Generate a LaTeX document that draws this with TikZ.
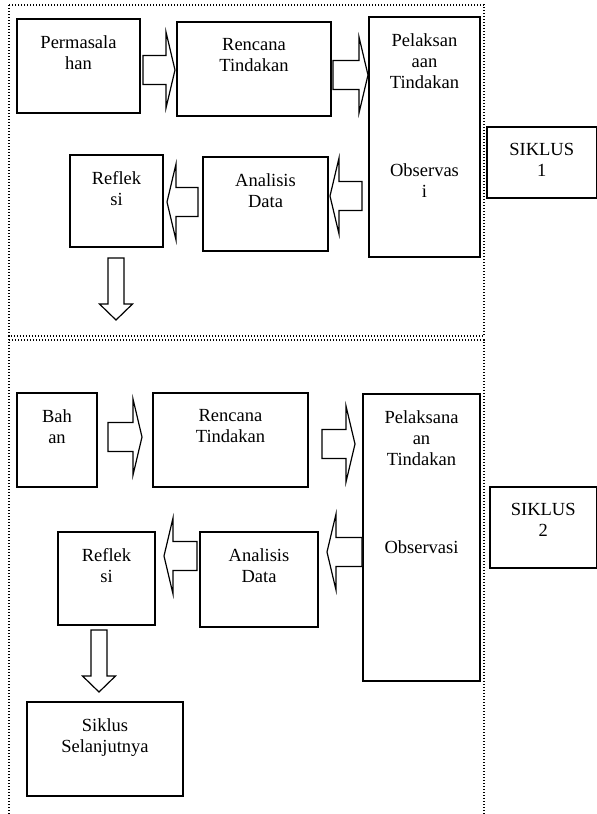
\documentclass[tikz,border=0pt]{standalone}
\usepackage{fontspec}
\setmainfont{Liberation Serif}
\usetikzlibrary{calc}
\tikzset{
  box/.style={draw, line width=1.7pt, inner sep=0pt, outer sep=0pt, rectangle},
  txt/.style={anchor=north, align=center, inner sep=0pt, font=\fontsize{18.5}{21}\selectfont},
  frame/.style={line width=1.3pt, dash pattern=on 1.3pt off 1.7pt},
  blockarrow/.style={draw, fill=white, line width=1.2pt, line join=miter},
}
\newcommand\mkbox[6]{%
  \node[box, minimum width={#4-#2}, minimum height={#5-#3}] (#1) at ({(#2+#4)/2},{(#3+#5)/2}) {};
  \node[txt] (#1-t) at ([yshift=-16pt]#1.north) {#6};
}
\newcommand\harrow[5]{%
  \draw[blockarrow] let \p1=(#1), \p2=(#2), \p3=(0,#3), \n1={sign(\x2-\x1)} in
   (\x1+\n1*#4pt, \y3+14.5pt) -- (\x2-\n1*#5pt-\n1*9pt, \y3+14.5pt) -- (\x2-\n1*#5pt-\n1*9pt, \y3+38pt)
   -- (\x2-\n1*#5pt, \y3) -- (\x2-\n1*#5pt-\n1*9pt, \y3-38pt) -- (\x2-\n1*#5pt-\n1*9pt, \y3-14.5pt)
   -- (\x1+\n1*#4pt, \y3-14.5pt) -- cycle;
}
\newcommand\varrow[5]{%
  \draw[blockarrow] let \p1=(#1), \p2=(#2), \p3=(#3,0) in
   (\x3-8pt, \y1-#4pt) -- (\x3-8pt, \y2+#5pt+16pt) -- (\x3-16.5pt, \y2+#5pt+16pt) -- (\x3, \y2+#5pt)
   -- (\x3+16.5pt, \y2+#5pt+16pt) -- (\x3+8pt, \y2+#5pt+16pt) -- (\x3+8pt, \y1-#4pt) -- cycle;
}
\begin{document}
\begin{tikzpicture}[x=1pt,y=-1pt]
\useasboundingbox (0,0) rectangle (597,814);
\fill[white] (0,0) rectangle (597,814);
% frames
\draw[frame] (9,5) rectangle (484,336);
\draw[frame] (9,820) -- (9,340) -- (484,340) -- (484,820);
% top cycle
\mkbox{perm}{17}{19}{140}{113}{Permasala\\han}
\mkbox{renA}{177}{22}{331}{116}{Rencana\\Tindakan}
\mkbox{pelA}{369}{17}{480}{257}{Pelaksan\\aan\\Tindakan}
\node[txt] (pelA-o) at ([yshift=-146pt]pelA.north) {Observas\\i};
\mkbox{sikA}{487}{127}{596.5}{198}{SIKLUS\\1}
\mkbox{refA}{70}{155}{163}{247}{Reflek\\si}
\mkbox{anaA}{203}{157}{328}{251}{Analisis\\Data}
\coordinate (endA) at (116,320);
\harrow{perm.east}{renA.west}{70}{3}{2}
\harrow{renA.east}{pelA.west}{75}{2}{1}
\harrow{pelA.west}{anaA.east}{196}{7}{2}
\harrow{anaA.west}{refA.east}{202}{5}{4}
\varrow{refA.south}{endA}{116}{11}{0}
% bottom cycle
\mkbox{bahan}{17}{393}{97}{487}{Bah\\an}
\mkbox{renB}{153}{393}{308}{487}{Rencana\\Tindakan}
\mkbox{pelB}{363}{394}{480}{681}{Pelaksana\\an\\Tindakan}
\node[txt] (pelB-o) at ([yshift=-146pt]pelB.north) {Observasi};
\mkbox{sikB}{490}{487}{596.5}{568}{SIKLUS\\2}
\mkbox{refB}{58}{532}{155}{625}{Reflek\\si}
\mkbox{anaB}{200}{532}{318}{627}{Analisis\\Data}
\mkbox{next}{27}{702}{183}{796}{Siklus\\Selanjutnya}
\harrow{bahan.east}{renB.west}{437}{11}{11}
\harrow{renB.east}{pelB.west}{444}{14}{8}
\harrow{pelB.west}{anaB.east}{552}{1}{9}
\harrow{anaB.west}{refB.east}{556}{3}{9}
\varrow{refB.south}{next.north}{99}{5}{10}
\end{tikzpicture}
\end{document}
